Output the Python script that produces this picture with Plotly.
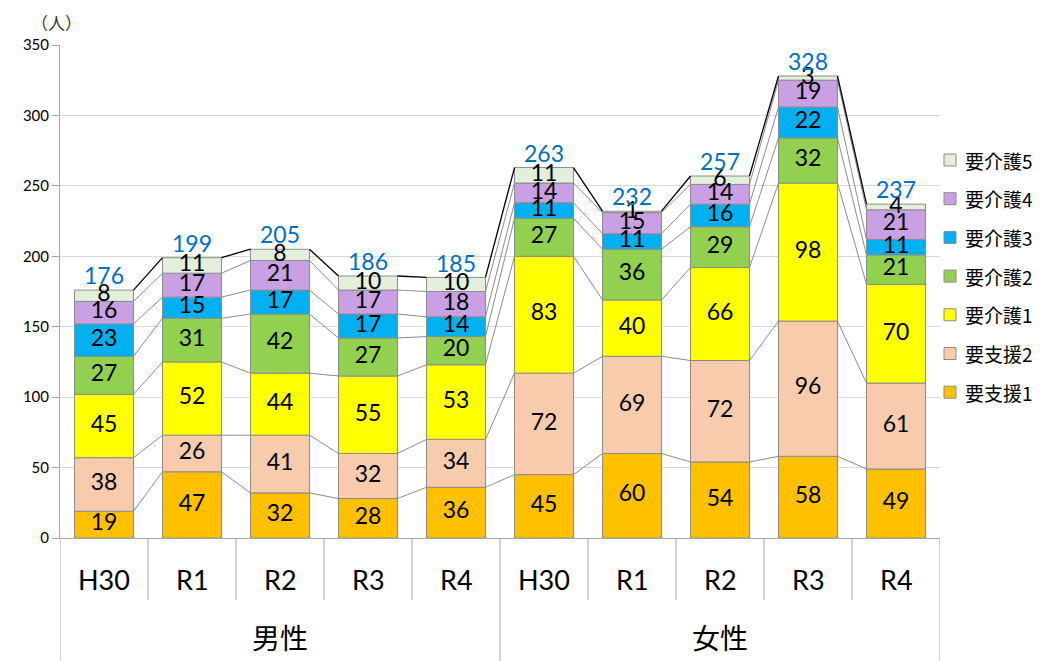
import plotly.graph_objects as go

genders = ["男性", "女性"]
years = ["H30", "R1", "R2", "R3", "R4"]
categories = [(g, y) for g in genders for y in years]

series_names = ["要支援1", "要支援2", "要介護1", "要介護2", "要介護3", "要介護4", "要介護5"]
series_colors = ["#FFC000", "#F8CBAD", "#FFFF00", "#92D050", "#00B0F0", "#C9A0E4", "#E2EFDA"]

yoshien1 = [19, 47, 32, 28, 36, 45, 60, 54, 58, 49]
yoshien2 = [38, 26, 41, 32, 34, 72, 69, 72, 96, 61]
yokaigo1 = [45, 52, 44, 55, 53, 83, 40, 66, 98, 70]
yokaigo2 = [27, 31, 42, 27, 20, 27, 36, 29, 32, 21]
yokaigo3 = [23, 15, 17, 17, 14, 11, 11, 16, 22, 11]
yokaigo4 = [16, 17, 21, 17, 18, 14, 15, 14, 19, 21]
yokaigo5 = [8, 11, 8, 10, 10, 11, 1, 6, 3, 4]
series_values = [yoshien1, yoshien2, yokaigo1, yokaigo2, yokaigo3, yokaigo4, yokaigo5]

FONT_NUM = "Lato, 'Noto Sans', sans-serif"
FONT_JP = "'Noto Sans CJK JP', sans-serif"
BAR_W = 0.67
n = len(categories)
xs = list(range(n))

fig = go.Figure()

# stacked bars
cum = [0] * n
cum_levels = []
for name, color, vals in zip(series_names, series_colors, series_values):
    fig.add_trace(go.Bar(
        x=xs, y=vals, base=cum[:], name=name, width=BAR_W,
        marker=dict(color=color, line=dict(color="#8c8c8c", width=1)),
        showlegend=False, hoverinfo="skip",
    ))
    mids = [c + v / 2 for c, v in zip(cum, vals)]
    fig.add_trace(go.Scatter(
        x=xs, y=mids, mode="text", text=[str(v) for v in vals],
        textfont=dict(family=FONT_NUM, size=23, color="black"),
        showlegend=False, hoverinfo="skip", cliponaxis=False,
    ))
    cum = [c + v for c, v in zip(cum, vals)]
    cum_levels.append(cum[:])

# series lines between bars
half = BAR_W / 2
for k, level in enumerate(cum_levels):
    lx, ly = [], []
    for i in range(n - 1):
        lx += [i + half, i + 1 - half, None]
        ly += [level[i], level[i + 1], None]
    top = (k == len(cum_levels) - 1)
    fig.add_trace(go.Scatter(
        x=lx, y=ly, mode="lines",
        line=dict(color="#000000" if top else "#8c8c8c", width=1.3 if top else 1),
        showlegend=False, hoverinfo="skip",
    ))

# totals
totals = cum_levels[-1]
fig.add_trace(go.Scatter(
    x=xs, y=totals, mode="text", text=[str(t) for t in totals],
    textposition="top center",
    textfont=dict(family=FONT_NUM, size=23, color="#0070C0"),
    showlegend=False, hoverinfo="skip", cliponaxis=False,
))

# category labels & dividers
annotations = []
shapes = []
for i, (g, yv) in enumerate(categories):
    annotations.append(dict(x=i, y=-0.085, xref="x", yref="paper", text=yv, showarrow=False,
                            font=dict(family=FONT_NUM, size=27, color="black"),
                            xanchor="center", yanchor="middle"))
for b in range(n + 1):
    is_group = (b % len(years) == 0)
    shapes.append(dict(type="line", xref="x", yref="paper", x0=b - 0.5, x1=b - 0.5,
                       y0=0, y1=-0.26 if is_group else -0.126,
                       line=dict(color="#a6a6a6", width=1)))
for gi, g in enumerate(genders):
    center = gi * len(years) + (len(years) - 1) / 2
    annotations.append(dict(x=center, y=-0.201, xref="x", yref="paper", text=g, showarrow=False,
                            font=dict(family=FONT_JP, size=28, color="black"),
                            xanchor="center", yanchor="middle"))
annotations.append(dict(x=-0.004, y=1.046, xref="paper", yref="paper", text="（人）", showarrow=False,
                        font=dict(family=FONT_JP, size=17, color="#333333"),
                        xanchor="center", yanchor="middle"))

# manual legend (top: 要介護5 ... bottom: 要支援1)
PLOT_L, PLOT_W, PLOT_B, PLOT_H = 60, 880, 538, 493
def px_x(p):
    return (p - PLOT_L) / PLOT_W
def px_y(p):
    return (PLOT_B - p) / PLOT_H
leg_top, leg_step = 160, 38.7
for j, (name, color) in enumerate(zip(series_names[::-1], series_colors[::-1])):
    cy = leg_top + j * leg_step
    shapes.append(dict(type="rect", xref="paper", yref="paper",
                       x0=px_x(944), x1=px_x(956), y0=px_y(cy + 6), y1=px_y(cy - 6),
                       fillcolor=color, line=dict(color="#8c8c8c", width=1)))
    annotations.append(dict(x=px_x(963), y=px_y(cy), xref="paper", yref="paper", text=name,
                            showarrow=False, xanchor="left", yanchor="middle",
                            font=dict(family=FONT_JP, size=19, color="black")))

fig.update_layout(
    width=1049, height=661,
    margin=dict(l=60, r=109, t=45, b=123),
    paper_bgcolor="white", plot_bgcolor="white",
    barmode="overlay",
    showlegend=False,
    xaxis=dict(range=[-0.5, n - 0.5], showticklabels=False, showgrid=False, zeroline=False,
               showline=True, linecolor="#a6a6a6", linewidth=1, ticks=""),
    yaxis=dict(range=[0, 350], dtick=50, showgrid=True, gridcolor="#d9d9d9", gridwidth=1,
               zeroline=False, showline=True, linecolor="#a6a6a6", linewidth=1,
               ticks="outside", ticklen=7, tickcolor="#a6a6a6",
               tickfont=dict(family=FONT_NUM, size=15, color="black")),
    annotations=annotations, shapes=shapes,
)

fig.write_html("out.html")
